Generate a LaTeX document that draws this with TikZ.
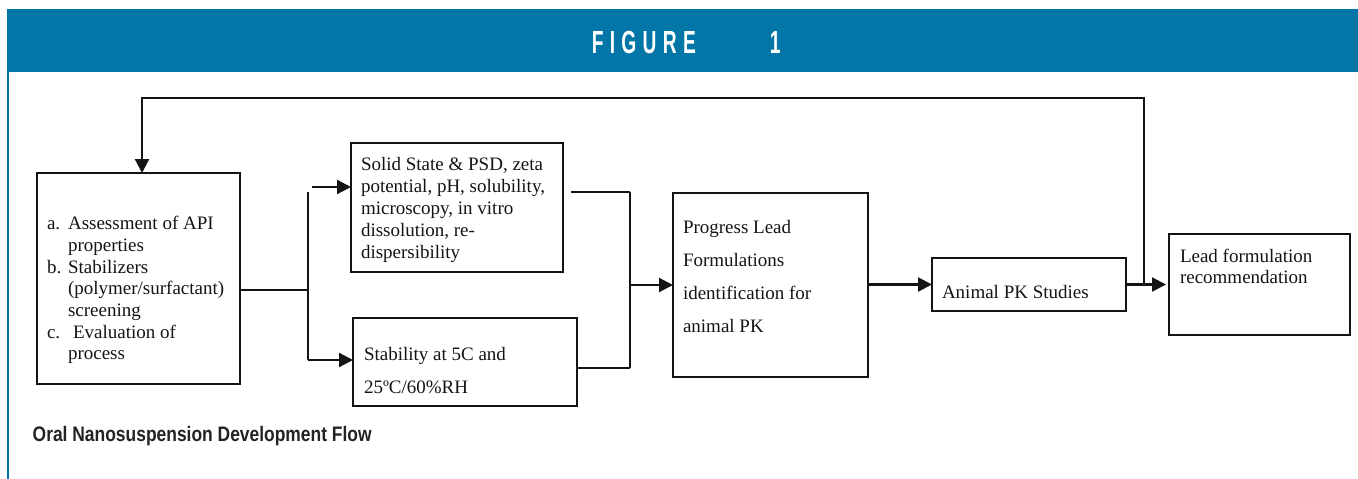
\documentclass[tikz,border=0pt]{standalone}
\usepackage{fontspec}
\setmainfont{Liberation Serif}
\newfontfamily\figfont[FakeStretch=0.6]{Liberation Sans}
\newfontfamily\capfont[FakeStretch=0.83]{Liberation Sans}
\usetikzlibrary{arrows.meta}
\definecolor{band}{RGB}{2,119,167}
\definecolor{captxt}{RGB}{35,35,35}
\definecolor{ink}{RGB}{20,20,20}
\newcommand\mkbox[5]{\node[box, minimum width=#4, minimum height=#5] (#1) at (#2,#3) {};}
\begin{document}
\begin{tikzpicture}[x=1pt,y=-1pt,
  box/.style={draw=ink, line width=2.2pt, inner sep=0pt, outer sep=0pt, anchor=north west},
  txt/.style={inner sep=0pt, outer sep=0pt, anchor=north west, text=ink},
  conn/.style={draw=ink, line width=2.2pt},
  arr/.style={conn, -{Triangle[length=14pt,width=14pt]}},
]
\useasboundingbox (0,0) rectangle (1358,479);
% header band and left rule
\fill[band] (7,9) rectangle (1358,72);
\draw[band, line width=2.5pt] (8.2,72) -- (8.2,479);
\node[inner sep=0pt, anchor=base west, text=white] (title) at (591.6,53)
  {\figfont\bfseries\fontsize{32}{32}\selectfont F\kern6.3pt I\kern6.3pt G\kern6.3pt U\kern6.3pt R\kern6.3pt E\kern74pt 1};

% boxes
\mkbox{A}{37}{173}{203pt}{211pt}
\mkbox{B}{351}{143}{212pt}{129pt}
\mkbox{C}{353}{318}{224pt}{88pt}
\mkbox{D}{673}{193}{195pt}{184pt}
\mkbox{E}{932}{258}{194pt}{53pt}
\mkbox{F}{1169}{234}{181pt}{101pt}

% texts
\node[txt] (At) at (47,214.8) {\fontsize{19}{21.67}\selectfont
  \begin{tabular}{@{}l@{\hspace{6.8pt}}l@{}}
  a. & Assessment of API\\
     & properties\\
  b. & Stabilizers\\
     & (polymer/surfactant)\\
     & screening\\
  c. & \hspace{5pt}Evaluation of\\
     & process
  \end{tabular}};
\node[txt] (Bt) at (361,154.6) {\fontsize{19}{22}\selectfont
  \begin{tabular}{@{}l@{}}
  Solid State \& PSD, zeta\\
  potential, pH, solubility,\\
  microscopy, in vitro\\
  dissolution, re-\\
  dispersibility
  \end{tabular}};
\node[txt] (Ct) at (364,336.9) {\fontsize{19}{33}\selectfont
  \begin{tabular}{@{}l@{}}
  Stability at 5C and\\
  25ºC/60\%RH
  \end{tabular}};
\node[txt] (Dt) at (683,209.9) {\fontsize{19}{33}\selectfont
  \begin{tabular}{@{}l@{}}
  Progress Lead\\
  Formulations\\
  identification for\\
  animal PK
  \end{tabular}};
\node[txt, anchor=base west] (Et) at (942,298) {\fontsize{19}{22}\selectfont Animal PK Studies};
\node[txt] (Ft) at (1180,247.3) {\fontsize{19}{21}\selectfont
  \begin{tabular}{@{}l@{}}
  Lead formulation\\
  recommendation
  \end{tabular}};

% connectors
\coordinate (jL) at (308,290);
\coordinate (vLt) at (308,192);
\coordinate (vLb) at (308,360);
\coordinate (aBs) at (312,187);
\draw[conn] (A.east |- jL) -- (jL);
\draw[conn] (vLt) -- (vLb);
\draw[arr] (aBs) -- (aBs -| B.west);
\draw[arr] (vLb) -- (vLb -| C.west);

\coordinate (rBs) at (571,192);
\coordinate (vRt) at (630,192);
\coordinate (vRb) at (630,368);
\coordinate (jR) at (630,285);
\draw[conn] (rBs) -- (vRt);
\draw[conn] (vRt) -- (vRb);
\draw[conn] (vRb) -- (vRb -| C.east);
\draw[arr] (jR) -- (jR -| D.west);
\draw[arr] (D.east |- E.west) -- (E.west);
\draw[arr, shorten >=3pt] (E.east) -- (E.east -| F.west);

\coordinate (fbR) at (1144,98);
\coordinate (fbL) at (142,98);
\draw[arr] (E.east -| fbR) -- (fbR) -- (fbL) -- (fbL |- A.north);

% caption
\node[inner sep=0pt, anchor=base west, text=captxt] (caption) at (32.5,441)
  {\capfont\bfseries\fontsize{21}{24}\selectfont Oral Nanosuspension Development Flow};
\end{tikzpicture}
\end{document}
